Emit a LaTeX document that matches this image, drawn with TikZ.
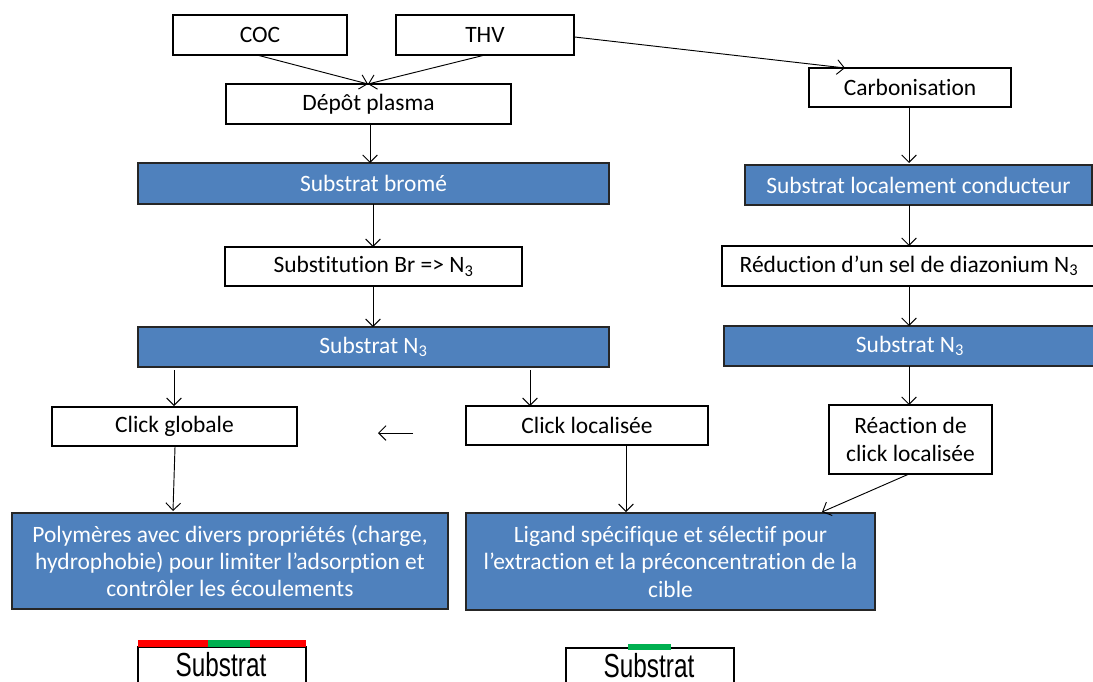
\documentclass[tikz,border=0pt]{standalone}
\usepackage{fontspec}
\setmainfont{Carlito}[Ligatures=NoCommon]
\newfontfamily\arialf{Liberation Sans}
\usetikzlibrary{arrows.meta}
\definecolor{boxblue}{HTML}{4F81BD}
\definecolor{barred}{HTML}{FF0000}
\definecolor{bargreen}{HTML}{00B050}
\newcommand\mybox[7]{\node[#6, minimum width={(#4-#2)*0.75pt}, minimum height={(#5-#3)*0.75pt}] (#1) at ({(#2+#4)/2},{(#3+#5)/2}) {#7};}
\tikzset{
  base/.style={draw=black, line width=0.9pt, inner sep=0pt, align=center, font=\fontsize{17.6}{20.6}\selectfont},
  whitebox/.style={base, fill=white, text=black},
  bluebox/.style={base, fill=boxblue, text=white, draw=black!85, line width=1.1pt},
  subbox/.style={draw=black, line width=1.4pt, inner sep=0pt, fill=white},
  subtext/.style={font=\arialf\fontsize{25}{27}\selectfont, anchor=base, inner sep=0pt},
  arr/.style={line width=0.7pt, -{Straight Barb[length=5.5pt,width=11pt]}}
}
\begin{document}
\begin{tikzpicture}[x=0.75pt, y=-0.75pt]
\useasboundingbox (0,0) rectangle (1093,682);
\clip (0,0) rectangle (1093,682);
\mybox{coc}{173}{15}{347}{55}{whitebox}{COC}
\mybox{thv}{396}{15}{574}{55}{whitebox}{THV}
\mybox{depot}{226}{84}{511}{124}{whitebox}{Dépôt plasma}
\mybox{carbo}{809}{68}{1011}{107}{whitebox}{Carbonisation}
\mybox{brome}{138}{163}{609}{204}{bluebox}{Substrat bromé}
\mybox{loccond}{745}{165}{1092}{205}{bluebox}{Substrat localement conducteur}
\mybox{substi}{225}{247}{522}{286}{whitebox}{Substitution Br => N\textsubscript{3}}
\mybox{reduc}{722}{246}{1096}{286}{whitebox}{Réduction d’un sel de diazonium N\textsubscript{3}}
\mybox{nl}{138}{327}{609}{367}{bluebox}{Substrat N\textsubscript{3}}
\mybox{nr}{724}{326}{1096}{366}{bluebox}{Substrat N\textsubscript{3}}
\mybox{cglob}{52}{407}{297}{446}{whitebox}{Click globale}
\mybox{cloc}{466}{406}{708}{445}{whitebox}{Click localisée}
\mybox{reac}{829}{405}{992}{474}{whitebox}{Réaction de\\click localisée}
\mybox{poly}{12}{513}{448}{609}{bluebox}{Polymères avec divers propriétés (charge,\\hydrophobie) pour limiter l’adsorption et\\contrôler les écoulements}
\mybox{lig}{466}{513}{875}{610}{bluebox}{Ligand spécifique et sélectif pour\\l’extraction et la préconcentration de la\\cible}
% bottom substrates
\mybox{sub1}{138}{647}{306}{712}{subbox}{}
\node[subtext] (sub1t) at (221,676) {\scalebox{0.73}[1]{Substrat}};
\fill[barred] (138,640) rectangle (208,647);
\fill[bargreen] (208,640) rectangle (250,647);
\fill[barred] (250,640) rectangle (306,647);
\mybox{sub2}{566}{648}{734}{712}{subbox}{}
\node[subtext] (sub2t) at (649,677) {\scalebox{0.73}[1]{Substrat}};
\fill[bargreen] (628,644) rectangle (671,650);
% connectors
\coordinate (mdep) at (368,84);
\draw[arr] (257,55) -- (mdep);
\draw[arr] (485,55) -- (mdep);
\draw[arr] (thv.east |- 0,37) -- (845,68);
\draw[arr] (370,124) -- (370,163);
\draw[arr] (909,107) -- (909,163);
\draw[arr] (373,204) -- (373,247);
\draw[arr] (909,205) -- (909,246);
\draw[arr] (373,286) -- (373,327);
\draw[arr] (909,286) -- (909,326);
\draw[arr] (174,370) -- (174,406);
\draw[arr] (530,370) -- (530,406);
\draw[arr] (909,366) -- (909,405);
\draw[arr] (175,447) -- (173,511);
\draw[arr] (626,446) -- (626,512);
\draw[arr] (909,474) -- (822,512);
\coordinate (la) at (413,433);
\coordinate (lb) at (378,433);
\draw[arr] (la) -- (lb);
\end{tikzpicture}
\end{document}
